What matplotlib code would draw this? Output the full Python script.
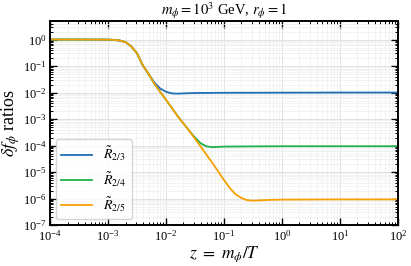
import numpy as np
import matplotlib
matplotlib.use("Agg")
import matplotlib.pyplot as plt
from matplotlib.ticker import LogLocator, NullFormatter

plt.rcParams["font.family"] = ["Liberation Serif", "DejaVu Serif"]
plt.rcParams["mathtext.fontset"] = "stix"

# values (z, ratio)
z_blue = [1e-4, 3e-4, 1e-3, 1.26e-3, 1.58e-3, 2.0e-3, 2.51e-3, 3.16e-3, 3.98e-3,
          5.01e-3, 6.31e-3, 7.94e-3, 1.0e-2, 1.26e-2, 1.58e-2, 2.0e-2, 3.16e-2,
          1e-1, 1e0, 1e1, 1e2]
r_blue = [1.0, 1.0, 0.99, 0.97, 0.92, 0.80, 0.55, 0.30, 0.105,
          0.049, 0.0235, 0.0141, 0.0107, 0.0093, 0.0091, 0.0093, 0.0096,
          0.0098, 0.0099, 0.0100, 0.0100]

z_green = [1e-4, 3e-4, 1e-3, 1.26e-3, 1.58e-3, 2.0e-3, 2.51e-3, 3.16e-3, 3.98e-3,
           5.01e-3, 6.31e-3, 7.94e-3, 1.0e-2, 1.58e-2, 2.51e-2, 3.16e-2, 3.98e-2,
           5.01e-2, 6.31e-2, 7.94e-2, 1.0e-1, 3.16e-1, 1e0, 1e1, 1e2]
r_green = [1.0, 1.0, 0.99, 0.97, 0.92, 0.80, 0.55, 0.30, 0.105,
           0.05, 0.021, 0.0105, 5.3e-3, 1.3e-3, 3.6e-4, 2.0e-4, 1.2e-4,
           9.3e-5, 8.7e-5, 8.9e-5, 9.1e-5, 9.3e-5, 9.4e-5, 9.4e-5, 9.4e-5]

z_orange = [1e-4, 3e-4, 1e-3, 1.26e-3, 1.58e-3, 2.0e-3, 2.51e-3, 3.16e-3, 3.98e-3,
            5.01e-3, 6.31e-3, 7.94e-3, 1.0e-2, 1.58e-2, 2.51e-2, 3.98e-2, 6.31e-2,
            1.0e-1, 1.26e-1, 1.58e-1, 2.0e-1, 2.51e-1, 3.16e-1, 3.98e-1, 6.31e-1,
            1e0, 1e1, 1e2]
r_orange = [1.0, 1.0, 0.99, 0.97, 0.92, 0.80, 0.55, 0.30, 0.105,
            0.05, 0.021, 0.0105, 5.3e-3, 1.3e-3, 3.6e-4, 9e-5, 2.2e-5,
            5.0e-6, 2.5e-6, 1.45e-6, 1.05e-6, 8.7e-7, 8.3e-7, 8.5e-7, 8.9e-7,
            9.1e-7, 9.3e-7, 9.3e-7]

labels = [r"$\tilde{R}_{2/3}$", r"$\tilde{R}_{2/4}$", r"$\tilde{R}_{2/5}$"]
colors = ["#1f6fb4", "#22b04b", "#f7a000"]

fig = plt.figure(figsize=(4.11, 2.66), dpi=100)
ax = fig.add_axes([0.122, 0.154, 0.846, 0.767])

for zz, rr, lab, c in zip([z_blue, z_green, z_orange], [r_blue, r_green, r_orange], labels, colors):
    ax.plot(zz, rr, color=c, lw=1.3, label=lab)

ax.set_xscale("log")
ax.set_yscale("log")
ax.set_xlim(1e-4, 1e2)
ax.set_ylim(1e-7, 5)
ax.xaxis.set_major_locator(LogLocator(base=10, numticks=20))
ax.yaxis.set_major_locator(LogLocator(base=10, numticks=20))
ax.xaxis.set_minor_locator(LogLocator(base=10, subs=np.arange(2, 10), numticks=100))
ax.yaxis.set_minor_locator(LogLocator(base=10, subs=np.arange(2, 10), numticks=100))
ax.xaxis.set_minor_formatter(NullFormatter())
ax.yaxis.set_minor_formatter(NullFormatter())

ax.tick_params(which="both", direction="in", top=True, right=True, labelsize=9)
ax.tick_params(which="major", length=5, width=1.0, pad=2.5)
ax.tick_params(which="minor", length=2.5, width=0.7)
for s in ax.spines.values():
    s.set_linewidth(1.4)

ax.grid(which="major", color="#dddddd", lw=0.6)
ax.grid(which="minor", color="#eeeeee", lw=0.5)

ax.set_xlabel(r"$z\ =\ m_\phi/T$", fontsize=12.5)
ax.set_ylabel(r"$\delta f_\phi$ ratios", fontsize=13)
ax.xaxis.set_label_coords(0.5, -0.095)
ax.yaxis.set_label_coords(-0.08, 0.5)
ax.set_title(r"$m_\phi = 10^3$ GeV, $r_\phi = 1$", fontsize=10.5, pad=3)

ax.legend(loc="lower left", fontsize=10, frameon=True, handlelength=2.2,
          borderaxespad=0.4, labelspacing=0.5)

fig.savefig("out.png", dpi=100)
